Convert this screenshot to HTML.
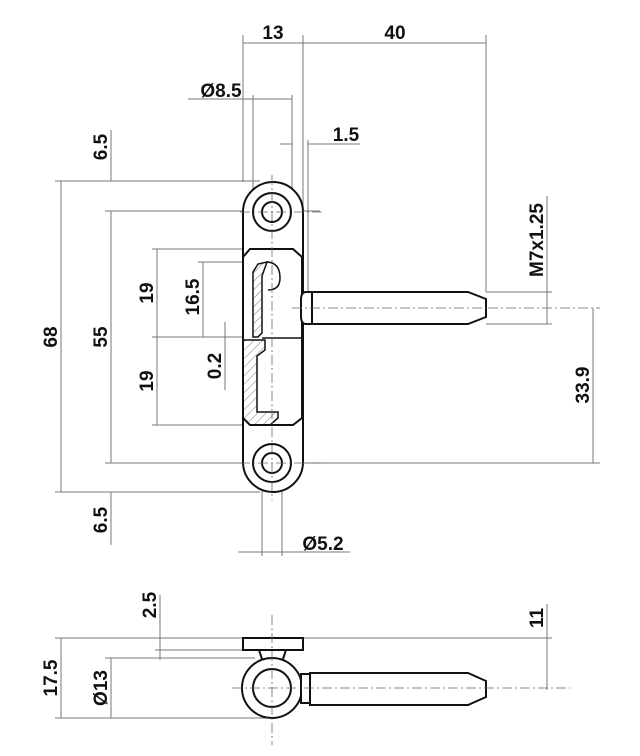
<!DOCTYPE html>
<html><head><meta charset="utf-8"><style>
html,body{margin:0;padding:0;background:#fff}
svg{display:block}
text{font-family:"Liberation Sans",sans-serif;font-weight:bold;font-size:19px;fill:#111}
.d{stroke:#777;stroke-width:1;fill:none}
.o{stroke:#111;stroke-width:2;fill:#fff}
.c{stroke:#666;stroke-width:0.8;fill:none;stroke-dasharray:10,3,2,3}
</style></head><body>
<svg width="640" height="756" viewBox="0 0 640 756" xmlns="http://www.w3.org/2000/svg">
<defs>
<pattern id="h" width="6" height="6" patternUnits="userSpaceOnUse" patternTransform="rotate(45)"><line x1="0" y1="0" x2="0" y2="6" stroke="#555" stroke-width="0.8"/></pattern>
</defs>
<!-- top dims -->
<line class="d" x1="243" y1="35" x2="243" y2="182"/>
<line class="d" x1="303" y1="35" x2="303" y2="292"/>
<line class="d" x1="486" y1="35" x2="486" y2="292"/>
<line class="d" x1="243" y1="43" x2="486" y2="43"/>
<text x="273" y="39" text-anchor="middle">13</text>
<text x="395" y="39" text-anchor="middle">40</text>
<line class="d" x1="253" y1="95" x2="253" y2="190"/>
<line class="d" x1="292" y1="95" x2="292" y2="250"/>
<line class="d" x1="188" y1="99" x2="292" y2="99"/>
<text x="221" y="97" text-anchor="middle">Ø8.5</text>
<line class="d" x1="308" y1="140" x2="308" y2="292"/>
<line class="d" x1="280" y1="144" x2="292" y2="144"/>
<line class="d" x1="308" y1="144" x2="360" y2="144"/>
<text x="346" y="141" text-anchor="middle">1.5</text>
<!-- left dims -->
<line class="d" x1="55" y1="181" x2="260" y2="181"/>
<line class="d" x1="55" y1="492" x2="260" y2="492"/>
<line class="d" x1="105" y1="211" x2="320" y2="211"/>
<line class="d" x1="105" y1="463" x2="600" y2="463"/>
<line class="d" x1="152" y1="249" x2="250" y2="249"/>
<line class="d" x1="152" y1="337" x2="245" y2="337"/>
<line class="d" x1="152" y1="425" x2="250" y2="425"/>
<line class="d" x1="198" y1="262" x2="260" y2="262"/>
<line class="d" x1="61" y1="181" x2="61" y2="492"/>
<line class="d" x1="111" y1="211" x2="111" y2="463"/>
<line class="d" x1="111" y1="130" x2="111" y2="181"/>
<line class="d" x1="111" y1="492" x2="111" y2="545"/>
<line class="d" x1="157" y1="249" x2="157" y2="425"/>
<line class="d" x1="203" y1="262" x2="203" y2="337"/>
<line class="d" x1="225" y1="322" x2="225" y2="390"/>
<text transform="translate(107,147) rotate(-90)" text-anchor="middle">6.5</text>
<text transform="translate(107,520) rotate(-90)" text-anchor="middle">6.5</text>
<text transform="translate(57,337) rotate(-90)" text-anchor="middle">68</text>
<text transform="translate(107,337) rotate(-90)" text-anchor="middle">55</text>
<text transform="translate(153,293) rotate(-90)" text-anchor="middle">19</text>
<text transform="translate(153,381) rotate(-90)" text-anchor="middle">19</text>
<text transform="translate(199,297) rotate(-90)" text-anchor="middle">16.5</text>
<text transform="translate(221,366) rotate(-90)" text-anchor="middle">0.2</text>
<!-- right dims -->
<line class="d" x1="486" y1="292" x2="552" y2="292"/>
<line class="d" x1="486" y1="324" x2="552" y2="324"/>
<line class="d" x1="547" y1="196" x2="547" y2="324"/>
<line class="c" x1="470" y1="308" x2="600" y2="308"/>
<line class="d" x1="593" y1="308" x2="593" y2="463"/>
<text transform="translate(543,240) rotate(-90)" text-anchor="middle">M7x1.25</text>
<text transform="translate(589,385) rotate(-90)" text-anchor="middle">33.9</text>
<!-- Ø5.2 -->
<line class="d" x1="262" y1="470" x2="262" y2="556"/>
<line class="d" x1="282" y1="470" x2="282" y2="556"/>
<line class="d" x1="238" y1="552" x2="350" y2="552"/>
<text x="323" y="550" text-anchor="middle">Ø5.2</text>
<!-- plate top view -->
<rect class="o" x="243" y="182" width="60" height="310" rx="30"/>
<circle class="o" cx="272" cy="212" r="19"/>
<circle class="o" cx="272" cy="212" r="10"/>
<circle class="o" cx="272" cy="463" r="19"/>
<circle class="o" cx="272" cy="463" r="10"/>
<polygon class="o" points="250,249 293,249 302,257 302,418 293,425 250,425 243,418 243,257"/>
<polygon fill="url(#h)" stroke="#111" stroke-width="1.5" points="253,272 258,264 267,262 262,276 262,333 258,337 253,337"/>
<polygon fill="url(#h)" stroke="#111" stroke-width="1.5" points="243,340 265,340 265,350 257,356 257,412 278,412 278,418 270,425 250,425 243,418"/>
<path d="M266,262 Q280,262 280,278 Q280,290 268,290" fill="none" stroke="#111" stroke-width="1.5"/>
<line x1="262" y1="338" x2="302" y2="338" stroke="#111" stroke-width="1.5"/>
<line class="c" x1="272" y1="175" x2="272" y2="500"/>
<line class="c" x1="240" y1="212" x2="325" y2="212"/>
<line class="c" x1="240" y1="463" x2="325" y2="463"/>
<!-- pin -->
<path class="o" d="M306,292 L312,292 L312,324 L306,324 Q301,324 301,316 L301,300 Q301,292 306,292Z"/>
<polygon class="o" points="312,292 468,292 486,299 486,317 468,324 312,324"/>
<line class="c" x1="292" y1="308" x2="486" y2="308"/>
<!-- bottom view dims -->
<line class="d" x1="55" y1="638" x2="243" y2="638"/>
<line class="d" x1="303" y1="638" x2="552" y2="638"/>
<line class="d" x1="155" y1="650" x2="243" y2="650"/>
<line class="d" x1="105" y1="658" x2="255" y2="658"/>
<line class="d" x1="55" y1="718" x2="272" y2="718"/>
<line class="d" x1="61" y1="638" x2="61" y2="718"/>
<line class="d" x1="111" y1="658" x2="111" y2="718"/>
<line class="d" x1="160" y1="595" x2="160" y2="660"/>
<line class="d" x1="547" y1="604" x2="547" y2="690"/>
<text transform="translate(156,605) rotate(-90)" text-anchor="middle">2.5</text>
<text transform="translate(57,678) rotate(-90)" text-anchor="middle">17.5</text>
<text transform="translate(107,688) rotate(-90)" text-anchor="middle">Ø13</text>
<text transform="translate(543,618) rotate(-90)" text-anchor="middle">11</text>
<!-- bottom view -->
<polygon class="o" points="259,650 286,650 282,662 263,662"/>
<rect class="o" x="243" y="638" width="60" height="12"/>
<circle class="o" cx="272" cy="688" r="30"/>
<circle class="o" cx="272" cy="688" r="19"/>
<rect class="o" x="301" y="674" width="11" height="29"/>
<polygon class="o" points="310,673 468,673 486,681 486,697 468,705 310,705"/>
<line class="c" x1="232" y1="688" x2="570" y2="688"/>
<line class="c" x1="272" y1="615" x2="272" y2="745"/>
</svg>
</body></html>
